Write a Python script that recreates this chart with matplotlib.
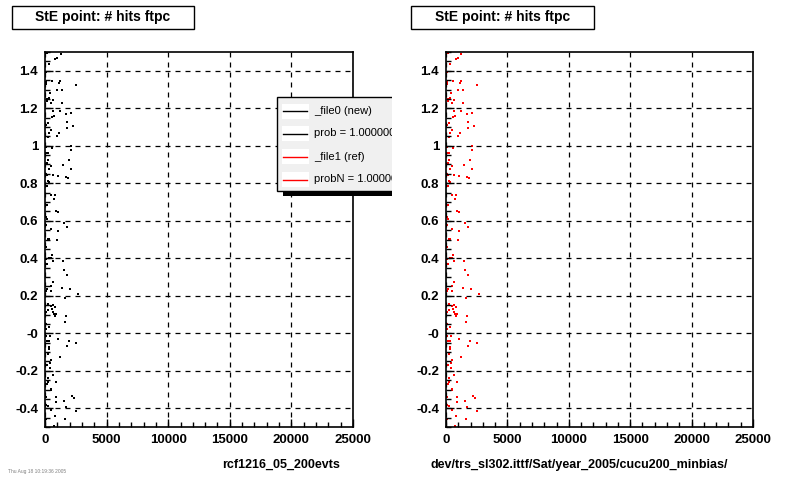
import matplotlib
matplotlib.use("Agg")
import matplotlib.pyplot as plt
from matplotlib.patches import Rectangle
from matplotlib.ticker import FixedLocator, MultipleLocator

plt.rcParams['font.family'] = ['Liberation Sans', 'DejaVu Sans']

# StE point: hits vs value (same set drawn for new and ref file)
hits = [167, 1260, 987, 822, 331, 85, 577, 1233, 1151, 2545, 85, 85, 440, 987, 1397,
        331, 194, 140, 495, 686, 1397, 659, 1233, 2135, 1725, 741, 577, 1807, 249, 2299,
        1807, 85, 467, 358, 1151, 987, 249, 577, 2135,
        85, 2135, 85, 249, 1971, 249, 1451, 495, 167, 331, 2135, 85, 167, 659, 1069,
        1725, 1889, 249, 331, 167, 495, 822, 741, 167, 905, 1069, 85, 167, 1561, 1807,
        85, 495, 1069, 331, 249, 987,
        85, 577, 331, 495, 85, 659, 1479, 167, 1561, 1807, 659, 495, 1397, 2053, 167,
        85, 495, 2709, 1643, 249, 659, 495, 822, 577, 249, 659, 85, 741, 905, 822,
        1725, 1643, 85, 331, 85, 413, 1069,
        85, 167, 331, 1971, 2545, 1807, 331, 331, 249, 495, 413, 1233, 167, 413, 659,
        249, 249, 905, 167, 495, 495, 85, 905, 2217, 2381, 1561, 905, 85, 249, 1725,
        495, 2545, 822, 85, 1643, 741]
vals = [1.493, 1.488, 1.466, 1.461, 1.434, 1.392, 1.344, 1.343, 1.334, 1.325, 1.339, 1.332,
        1.280, 1.296, 1.296, 1.257, 1.247, 1.240, 1.227, 1.243, 1.227, 1.185, 1.186, 1.174,
        1.169, 1.158, 1.156, 1.126, 1.121, 1.105, 1.094, 1.110, 1.084, 1.068, 1.068, 1.052,
        1.047, 0.988, 0.997,
        0.993, 0.978, 0.962, 0.962, 0.924, 0.924, 0.898, 0.892, 0.908, 0.877, 0.877, 0.850,
        0.845, 0.845, 0.839, 0.834, 0.829, 0.813, 0.807, 0.786, 0.738, 0.738, 0.717, 0.685,
        0.653, 0.648, 0.622, 0.611, 0.590, 0.568, 0.579, 0.558, 0.547, 0.505, 0.505, 0.499,
        0.462, 0.420, 0.404, 0.404, 0.398, 0.388, 0.388, 0.372, 0.335, 0.313, 0.276, 0.250,
        0.239, 0.234, 0.234, 0.228, 0.223, 0.207, 0.186, 0.154, 0.149, 0.143, 0.138, 0.127,
        0.122, 0.111, 0.111, 0.101, 0.101, 0.090, 0.090, 0.058, 0.048, 0.032, 0.021, -0.016,
        -0.032,
        -0.016, -0.043, -0.043, -0.043, -0.053, -0.069, -0.075, -0.085, -0.112, -0.144,
        -0.160, -0.128, -0.170, -0.186, -0.223, -0.239, -0.261, -0.261, -0.271, -0.298,
        -0.303, -0.340, -0.340, -0.335, -0.346, -0.361, -0.367, -0.383, -0.388, -0.393,
        -0.409, -0.415, -0.441, -0.457, -0.457, -0.494]

title = "StE point: # hits ftpc"
ytick_vals = [1.4, 1.2, 1.0, 0.8, 0.6, 0.4, 0.2, 0.0, -0.2, -0.4]
ytick_labels = ['1.4', '1.2', '1', '0.8', '0.6', '0.4', '0.2', '-0', '-0.2', '-0.4']
xtick_vals = [0, 5000, 10000, 15000, 20000, 25000]
legend_labels = ['_file0 (new)', 'prob = 1.000000', '_file1 (ref)', 'probN = 1.000000']
legend_colors = ['black', 'black', 'red', 'red']
xlabels = ['rcf1216_05_200evts', 'dev/trs_sl302.ittf/Sat/year_2005/cucu200_minbias/']

W, H = 800, 480
fig = plt.figure(figsize=(8, 4.8), dpi=100)


def px(x0, y0, x1, y1):
    return [x0 / W, 1 - y1 / H, (x1 - x0) / W, (y1 - y0) / H]


panels = [(45, 353, 'black', 12, 194, 340), (446, 753, 'red', 411, 594, 728)]
for i, (xl, xr, col, tb0, tb1, labx) in enumerate(panels):
    ax = fig.add_axes(px(xl, 52, xr, 427))
    ax.scatter(hits, vals, s=1.0, marker='s', c=col, linewidths=0)
    ax.set_xlim(0, 25000)
    ax.set_ylim(-0.5, 1.5)
    ax.yaxis.set_major_locator(FixedLocator(ytick_vals))
    ax.set_yticklabels(ytick_labels)
    ax.yaxis.set_minor_locator(MultipleLocator(0.05))
    ax.xaxis.set_major_locator(FixedLocator(xtick_vals))
    ax.set_xticklabels([str(v) for v in xtick_vals])
    ax.xaxis.set_minor_locator(MultipleLocator(1000))
    ax.tick_params(which='both', direction='in', width=1, top=False, right=False)
    ax.tick_params(which='major', length=6, pad=5, labelsize=9.5)
    ax.tick_params(which='minor', length=3.6)
    for lab in ax.get_xticklabels() + ax.get_yticklabels():
        lab.set_fontweight('bold')
    ax.grid(True, which='major', color='black', linestyle=(0, (4, 4)), linewidth=0.9)
    for sp in ax.spines.values():
        sp.set_linewidth(1.2)

    # title box
    fig.patches.append(Rectangle((tb0 / W, 1 - 29 / H), (tb1 - tb0) / W, 23 / H,
                                 transform=fig.transFigure, fc='white', ec='black', lw=1))
    fig.text((tb0 + tb1) / 2 / W, 1 - 17.5 / H, title, ha='center', va='center',
             fontsize=10, fontweight='bold')
    fig.text(labx / W, 1 - 465 / H, xlabels[i], ha='right', va='center',
             fontsize=9, fontweight='bold')

fig.text(8 / W, 1 - 471 / H, 'Thu Aug 18 10:19:36 2005', fontsize=3.5, color='gray',
         va='center')

# legend on the left pad, clipped at the pad edge
axl = fig.add_axes([0, 0, 392 / W, 1])
axl.set_xlim(0, 392)
axl.set_ylim(H, 0)
axl.axis('off')
axl.add_patch(Rectangle((283, 190), 140, 6, fc='black', ec='none'))
axl.add_patch(Rectangle((277, 97), 140, 94, fc='#f0f0f0', ec='black', lw=1))
ys = [111, 133.5, 156.5, 179.5]
for yc, lab, c in zip(ys, legend_labels, legend_colors):
    axl.add_patch(Rectangle((282, yc - 7.5), 27, 15, fc='white', ec='none'))
    axl.plot([283, 307], [yc, yc], color=c, lw=1)
    t = axl.text(314, yc, lab, va='center', ha='left', fontsize=8)
    t.set_clip_on(True)

fig.savefig('out.png', dpi=100)
